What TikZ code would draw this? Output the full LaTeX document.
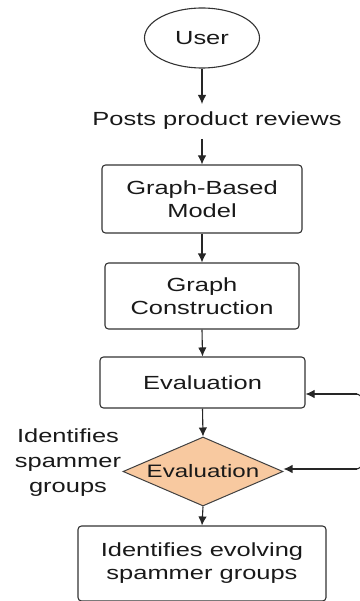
\documentclass[tikz,border=0pt]{standalone}
\usepackage{fontspec}
\setmainfont{Liberation Sans}[FakeStretch=1.34]
\usetikzlibrary{shapes.geometric,arrows.meta}
\definecolor{diafill}{HTML}{F8C9A0}
\begin{document}
\begin{tikzpicture}[x=1pt,y=-1pt,
  every node/.style={font=\fontsize{19}{23}\selectfont, align=center, text=black!90},
  proc/.style={draw=black!80, line width=1.1pt, rounded corners=3.5pt, inner sep=0pt},
  link/.style={draw=black!85, line width=1.1pt, -{Latex[length=9pt,width=8.5pt]}}
]
\useasboundingbox (0,0) rectangle (359,601);
\node[draw=black!80, line width=1.1pt, ellipse, minimum width=115pt, minimum height=60pt, inner sep=0pt] (user) at (202,38) {User};
\node (posts) at (217,121) {Posts product reviews};
\node[proc, minimum width=200pt, minimum height=68pt] (gbm) at (202,199) {Graph-Based\\Model};
\node[proc, minimum width=194pt, minimum height=66pt] (gc) at (202,296) {Graph\\Construction};
\node[proc, minimum width=205pt, minimum height=51pt] (ev) at (202.5,382.5) {Evaluation};
\node[draw=black!75, line width=1pt, fill=diafill, diamond, shape aspect=2.32, minimum width=160pt, minimum height=69pt, inner sep=0pt, font=\fontsize{18}{22}\selectfont] (dia) at (203,471.5) {Evaluation};
\node[font=\fontsize{19}{25}\selectfont] (ident) at (68,463) {Identifies\\spammer\\groups};
\node[proc, minimum width=248pt, minimum height=75pt] (fin) at (202,563.5) {Identifies evolving\\spammer groups};
\coordinate (rt) at (357,394);
\coordinate (rb) at (357,469);
\draw[link] (user.south) -- (202,104);
\draw[link] (202,139) -- (gbm.north);
\draw[link] (gbm.south) -- (gc.north);
\draw[link] (gc.south) -- (ev.north);
\draw[link] (ev.south) -- (dia.north);
\draw[link] (dia.south) -- (fin.north);
\draw[draw=black!85, line width=1.1pt, rounded corners=6pt] (rt) -- (362,394) -- (362,469) -- (rb);
\draw[link] (rt) -- (ev.east |- rt);
\draw[link] (rb) -- (dia.east |- rb);
\end{tikzpicture}
\end{document}
